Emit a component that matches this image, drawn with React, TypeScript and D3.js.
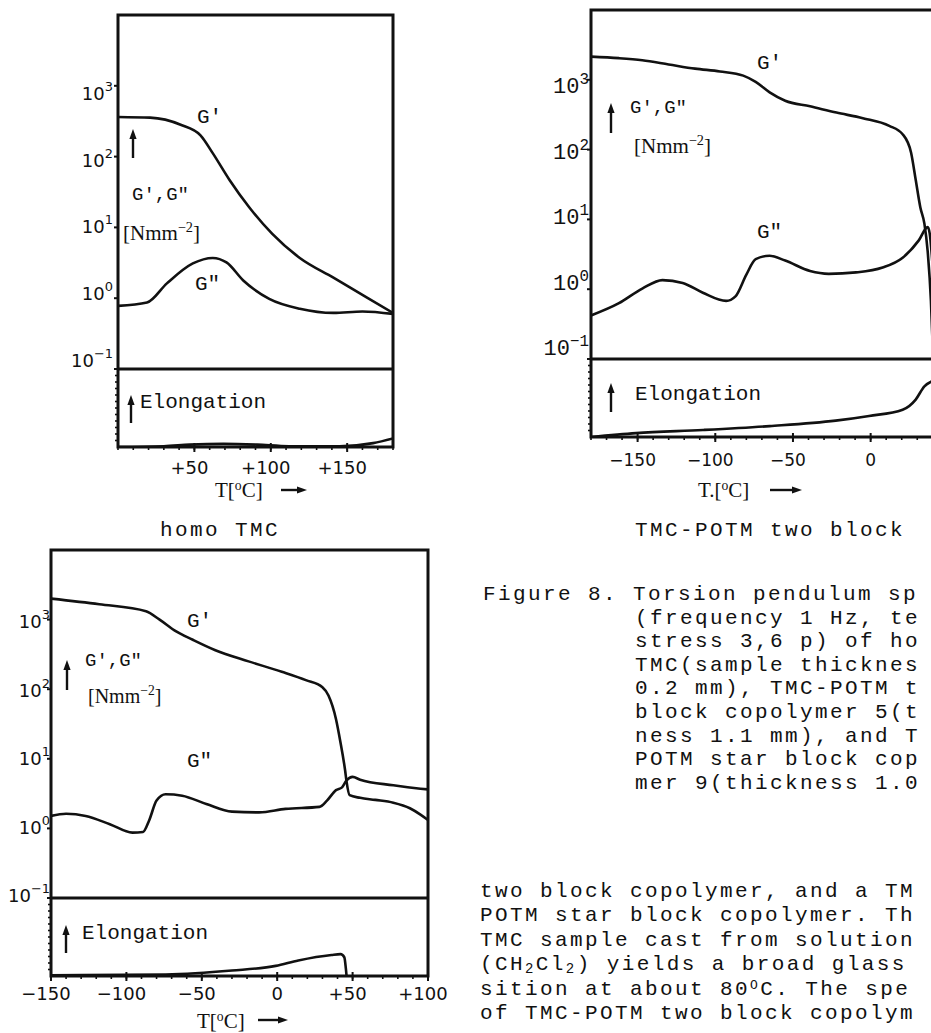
import React from "react";
import * as d3 from "d3";

// ---------- data ----------
// homo TMC panel (top left)
const homoGpT = [0, 21, 41, 54, 62, 73, 86, 101, 119, 141, 163, 180];
const homoGp = [363, 355, 282, 200, 112, 46.8, 19.1, 8.1, 3.7, 1.95, 1.02, 0.62];
const homoGppT = [0, 19, 32, 49, 62, 71, 82, 99, 119, 141, 160, 180];
const homoGpp = [0.78, 0.87, 1.62, 3.1, 3.7, 3.2, 1.78, 0.98, 0.71, 0.62, 0.65, 0.6];
const homoElT = [0, 30, 47, 69, 91, 112, 145, 167, 180];
const homoEl = [0, 0.01, 0.03, 0.04, 0.03, 0.01, 0.01, 0.05, 0.11];

// TMC-POTM two block panel (top right)
const twoGpT = [-180, -162, -147, -130, -113, -97, -82, -74, -65, -55, -39, -22, -5, 12, 20.6, 26, 29, 32, 34.6, 36.7, 38.8, 40];
const twoGp = [2150, 2042, 1905, 1660, 1445, 1318, 1148, 933, 661, 501, 417, 339, 282, 219, 166, 91, 37, 14.8, 8.7, 3.5, 0.68, 0.14];
const twoGppT = [-180, -162, -147, -134, -121, -108, -93, -87, -80, -74, -65, -55, -39, -27, -9.4, 7.7, 20.6, 31, 36.7, 38, 40];
const twoGpp = [0.42, 0.63, 1.02, 1.35, 1.23, 0.89, 0.68, 0.79, 1.62, 2.69, 3.02, 2.57, 1.82, 1.66, 1.74, 2.04, 2.82, 5.01, 7.76, 6.31, 2.0];
const twoElT = [-180, -151, -108, -65, -22.5, -1, 20.6, 29, 34.6, 40];
const twoEl = [0, 0.05, 0.09, 0.14, 0.21, 0.27, 0.35, 0.48, 0.65, 0.72];

// star block panel (bottom left)
const starGpT = [-150, -118, -87, -78, -67, -56, -41, -19, 3, 19, 30, 34, 39, 42, 45, 46, 48, 55, 65, 77, 88, 95, 100];
const starGp = [2000, 1660, 1318, 1000, 676, 513, 363, 251, 178, 135, 107, 81, 37, 17, 6.9, 4.7, 3.0, 2.75, 2.57, 2.34, 1.95, 1.58, 1.32];
const starGppT = [-150, -140, -127, -111, -96, -89, -85, -80, -74, -63, -47, -30, -12, 5.5, 28, 33, 39, 43, 46, 50, 55, 77, 95, 100];
const starGpp = [1.51, 1.62, 1.51, 1.15, 0.87, 0.89, 1.29, 2.51, 3.09, 2.95, 2.24, 1.74, 1.7, 1.91, 2.04, 2.51, 3.55, 3.89, 4.9, 5.5, 5.01, 4.17, 3.72, 3.63];
const starElT = [-150, -74, -30, -1, 14, 36, 42, 44.5, 45.5, 46];
const starEl = [0.01, 0.02, 0.07, 0.13, 0.2, 0.27, 0.28, 0.24, 0.1, 0];

// ticks
const decadeValues = [0.1, 1, 10, 100, 1000];
const decadeExponents = ["\u22121", "0", "1", "2", "3"];
const homoXTicks = [50, 100, 150];
const homoXLabels = ["+50", "+100", "+150"];
const twoXTicks = [-150, -100, -50, 0];
const twoXLabels = ["\u2212150", "\u2212100", "\u221250", "0"];
const starXTicks = [-150, -100, -50, 0, 50, 100];
const starXLabels = ["\u2212150", "\u2212100", "\u221250", "0", "+50", "+100"];

// text
const captionFirst = "Figure 8. Torsion pendulum sp";
const captionLines = [
  "(frequency 1 Hz, te",
  "stress 3,6 p) of ho",
  "TMC(sample thicknes",
  "0.2 mm), TMC-POTM t",
  "block copolymer 5(t",
  "ness 1.1 mm), and T",
  "POTM star block cop",
  "mer 9(thickness 1.0",
];

const MONO = "'Liberation Mono', 'DejaVu Sans Mono', monospace";
const SANS = "'DejaVu Sans', sans-serif";
const SERIF = "'Liberation Serif', serif";
const INK = "#111";

function UpArrow({ x, y1, y2 }: { x: number; y1: number; y2: number }) {
  return (
    <g>
      <line x1={x} x2={x} y1={y1 + 8} y2={y2} stroke={INK} strokeWidth={2.4} />
      <path d={`M${x - 3.6},${y1 + 10}L${x + 3.6},${y1 + 10}L${x},${y1}Z`} fill={INK} />
    </g>
  );
}

function RightArrow({ x1, x2, y }: { x1: number; x2: number; y: number }) {
  return (
    <g>
      <line x1={x1} x2={x2 - 8} y1={y} y2={y} stroke={INK} strokeWidth={2.4} />
      <path d={`M${x2 - 10},${y - 3.6}L${x2 - 10},${y + 3.6}L${x2},${y}Z`} fill={INK} />
    </g>
  );
}

type Cfg = {
  id: string;
  left: number; right: number; top: number; divider: number; bottom: number;
  xDomain: [number, number];
  gp: [number[], number[]]; gpp: [number[], number[]]; el: [number[], number[]];
  xTicks: number[]; xLabels: string[]; xLabelY: number; xLabelFont: string; xLabelSize: number;
  yLabelRight: number; yLabelFont: string; yLabelSize: number; yLabelDy0: number; yLabelDySlope: number;
};

function Panel({ c }: { c: Cfg }) {
  const x = d3.scaleLinear().domain(c.xDomain).range([c.left, c.right]);
  const y = d3.scaleLog().domain([0.1, 1e4]).range([c.divider, c.top]);
  const ye = d3.scaleLinear().domain([0, 1]).range([c.bottom, c.divider]);
  const mk = (t: number[], v: number[], ys: (n: number) => number) =>
    d3.line<number>().x((_, i) => x(t[i])).y((d) => ys(d)).curve(d3.curveMonotoneX)(v) || "";
  const minor = d3.range(Math.ceil(c.xDomain[0] / 10) * 10, c.xDomain[1] + 0.01, 10);
  const leftMinor = d3.range(1, 12).map((k) => c.divider + ((c.bottom - c.divider) * k) / 12);
  return (
    <g>
      <defs>
        <clipPath id={c.id}>
          <rect x={c.left} y={c.top} width={c.right - c.left} height={c.bottom - c.top} />
        </clipPath>
      </defs>
      <g clipPath={`url(#${c.id})`} fill="none" stroke={INK} strokeWidth={2.6} strokeLinejoin="round">
        <path d={mk(c.gp[0], c.gp[1], y)} />
        <path d={mk(c.gpp[0], c.gpp[1], y)} />
        <path d={mk(c.el[0], c.el[1], ye)} />
      </g>
      <rect x={c.left} y={c.top} width={c.right - c.left} height={c.bottom - c.top} fill="none" stroke={INK} strokeWidth={3} />
      <line x1={c.left} x2={c.right} y1={c.divider} y2={c.divider} stroke={INK} strokeWidth={3} />
      {decadeValues.map((v, i) => (
        <g key={i}>
          <line x1={c.left - 4} x2={c.left} y1={y(v)} y2={y(v)} stroke={INK} strokeWidth={2} />
          <text
            x={c.yLabelRight}
            y={y(v) + c.yLabelDy0 + c.yLabelDySlope * i}
            textAnchor="end"
            fontFamily={c.yLabelFont}
            fontSize={c.yLabelSize}
            fill={INK}
          >
            10
            <tspan dy={-9} fontSize={c.yLabelSize * 0.72}>{decadeExponents[i]}</tspan>
          </text>
        </g>
      ))}
      {leftMinor.map((yy, i) => (
        <line key={i} x1={c.left - 3} x2={c.left} y1={yy} y2={yy} stroke={INK} strokeWidth={1.6} />
      ))}
      {minor.map((t, i) => (
        <line key={i} x1={x(t)} x2={x(t)} y1={c.bottom} y2={c.bottom + 3} stroke={INK} strokeWidth={1.6} />
      ))}
      {c.xTicks.map((t, i) => (
        <g key={i}>
          <line x1={x(t)} x2={x(t)} y1={c.bottom - 4} y2={c.bottom + 5} stroke={INK} strokeWidth={2} />
          <text
            x={x(t) + (/^[+\u2212]/.test(c.xLabels[i]) ? -5 : 0)}
            y={c.xLabelY}
            textAnchor="middle"
            fontFamily={c.xLabelFont}
            fontSize={c.xLabelSize}
            fill={INK}
          >
            {c.xLabels[i]}
          </text>
        </g>
      ))}
    </g>
  );
}

function Unit({ x, y, size }: { x: number; y: number; size: number }) {
  return (
    <text x={x} y={y} fontFamily={SERIF} fontSize={size} fill={INK}>
      [Nmm
      <tspan dy={-8} fontSize={size * 0.68}>{"\u22122"}</tspan>
      <tspan dy={8}>]</tspan>
    </text>
  );
}

function TLabel({ x, y, size, dot }: { x: number; y: number; size: number; dot?: boolean }) {
  return (
    <text x={x} y={y} fontFamily={SERIF} fontSize={size} fill={INK}>
      {dot ? "T.[" : "T["}
      <tspan dy={-7} fontSize={size * 0.65}>o</tspan>
      <tspan dy={7}>C]</tspan>
    </text>
  );
}

const TXT = { fontFamily: MONO, fontSize: 21, letterSpacing: 2.4, fill: INK } as const;

export default function App() {
  const A: Cfg = {
    id: "clipA", left: 118, right: 393, top: 15, divider: 369, bottom: 447,
    xDomain: [0, 180],
    gp: [homoGpT, homoGp], gpp: [homoGppT, homoGpp], el: [homoElT, homoEl],
    xTicks: homoXTicks, xLabels: homoXLabels, xLabelY: 474, xLabelFont: SANS, xLabelSize: 18,
    yLabelRight: 113, yLabelFont: SANS, yLabelSize: 18, yLabelDy0: -2, yLabelDySlope: 4,
  };
  const B: Cfg = {
    id: "clipB", left: 591, right: 1026, top: 10, divider: 359, bottom: 437,
    xDomain: [-180, 100],
    gp: [twoGpT, twoGp], gpp: [twoGppT, twoGpp], el: [twoElT, twoEl],
    xTicks: twoXTicks, xLabels: twoXLabels, xLabelY: 466, xLabelFont: SANS, xLabelSize: 17,
    yLabelRight: 589, yLabelFont: MONO, yLabelSize: 22, yLabelDy0: -4, yLabelDySlope: 4.3,
  };
  const C: Cfg = {
    id: "clipC", left: 51, right: 428, top: 550, divider: 898, bottom: 976,
    xDomain: [-150, 100],
    gp: [starGpT, starGp], gpp: [starGppT, starGpp], el: [starElT, starEl],
    xTicks: starXTicks, xLabels: starXLabels, xLabelY: 1000, xLabelFont: SANS, xLabelSize: 18,
    yLabelRight: 50, yLabelFont: SANS, yLabelSize: 18, yLabelDy0: 4, yLabelDySlope: 1.2,
  };
  const lineH = 23.6;
  const paraH = 24.4;
  return (
    <svg
      width={931}
      height={1033}
      viewBox="0 0 931 1033"
      style={{ position: "absolute", left: 0, top: 0, background: "#fff" }}
    >
      <rect x={0} y={0} width={931} height={1033} fill="#fff" />

      {/* Panel A: homo TMC */}
      <Panel c={A} />
      <text x={197} y={123} fontFamily={MONO} fontSize={21} fill={INK}>G′</text>
      <UpArrow x={133} y1={129} y2={158} />
      <text x={132} y={200} fontFamily={MONO} fontSize={19} fill={INK}>G′,G″</text>
      <Unit x={123} y={240} size={21} />
      <text x={195} y={290} fontFamily={MONO} fontSize={21} fill={INK}>G″</text>
      <UpArrow x={131} y1={395} y2={423} />
      <text x={140} y={408} fontFamily={MONO} fontSize={21} fill={INK}>Elongation</text>
      <TLabel x={215} y={497} size={21} />
      <RightArrow x1={281} x2={307} y={490} />
      <text x={220} y={536} textAnchor="middle" {...TXT}>homo TMC</text>

      {/* Panel B: TMC-POTM two block */}
      <Panel c={B} />
      <text x={757} y={69} fontFamily={MONO} fontSize={21} fill={INK}>G′</text>
      <UpArrow x={611} y1={103} y2={133} />
      <text x={630} y={113} fontFamily={MONO} fontSize={19} fill={INK}>G′,G″</text>
      <Unit x={634} y={153} size={21} />
      <text x={757} y={238} fontFamily={MONO} fontSize={21} fill={INK}>G″</text>
      <UpArrow x={611} y1={383} y2={412} />
      <text x={635} y={400} fontFamily={MONO} fontSize={21} fill={INK}>Elongation</text>
      <TLabel x={698} y={497} size={21} dot />
      <RightArrow x1={770} x2={802} y={490} />
      <text x={635} y={536} {...TXT}>TMC-POTM two block</text>

      {/* Caption */}
      <text x={483} y={600} {...TXT}>{captionFirst}</text>
      {captionLines.map((s, i) => (
        <text key={i} x={635} y={600 + lineH * (i + 1)} {...TXT}>{s}</text>
      ))}

      {/* Panel C: star block */}
      <Panel c={C} />
      <text x={187} y={627} fontFamily={MONO} fontSize={21} fill={INK}>G′</text>
      <UpArrow x={67} y1={660} y2={690} />
      <text x={85} y={666} fontFamily={MONO} fontSize={19} fill={INK}>G′,G″</text>
      <Unit x={88} y={703} size={20} />
      <text x={187} y={767} fontFamily={MONO} fontSize={21} fill={INK}>G″</text>
      <UpArrow x={66} y1={925} y2={953} />
      <text x={82} y={939} fontFamily={MONO} fontSize={21} fill={INK}>Elongation</text>
      <TLabel x={197} y={1028} size={21} />
      <RightArrow x1={258} x2={288} y={1020} />

      {/* Body text */}
      <g {...TXT}>
        <text x={480} y={897}>two block copolymer, and a TM</text>
        <text x={480} y={897 + paraH}>POTM star block copolymer. Th</text>
        <text x={480} y={897 + paraH * 2}>TMC sample cast from solution</text>
        <text x={480} y={897 + paraH * 3}>
          (CH<tspan dy={3} fontSize={14}>2</tspan>
          <tspan dy={-3}>Cl</tspan>
          <tspan dy={3} fontSize={14}>2</tspan>
          <tspan dy={-3}>) yields a broad glass</tspan>
        </text>
        <text x={480} y={897 + paraH * 4}>
          sition at about 80<tspan dy={-6} fontSize={13}>O</tspan>
          <tspan dy={6}>C. The spe</tspan>
        </text>
        <text x={480} y={897 + paraH * 5}>of TMC-POTM two block copolym</text>
      </g>
    </svg>
  );
}
